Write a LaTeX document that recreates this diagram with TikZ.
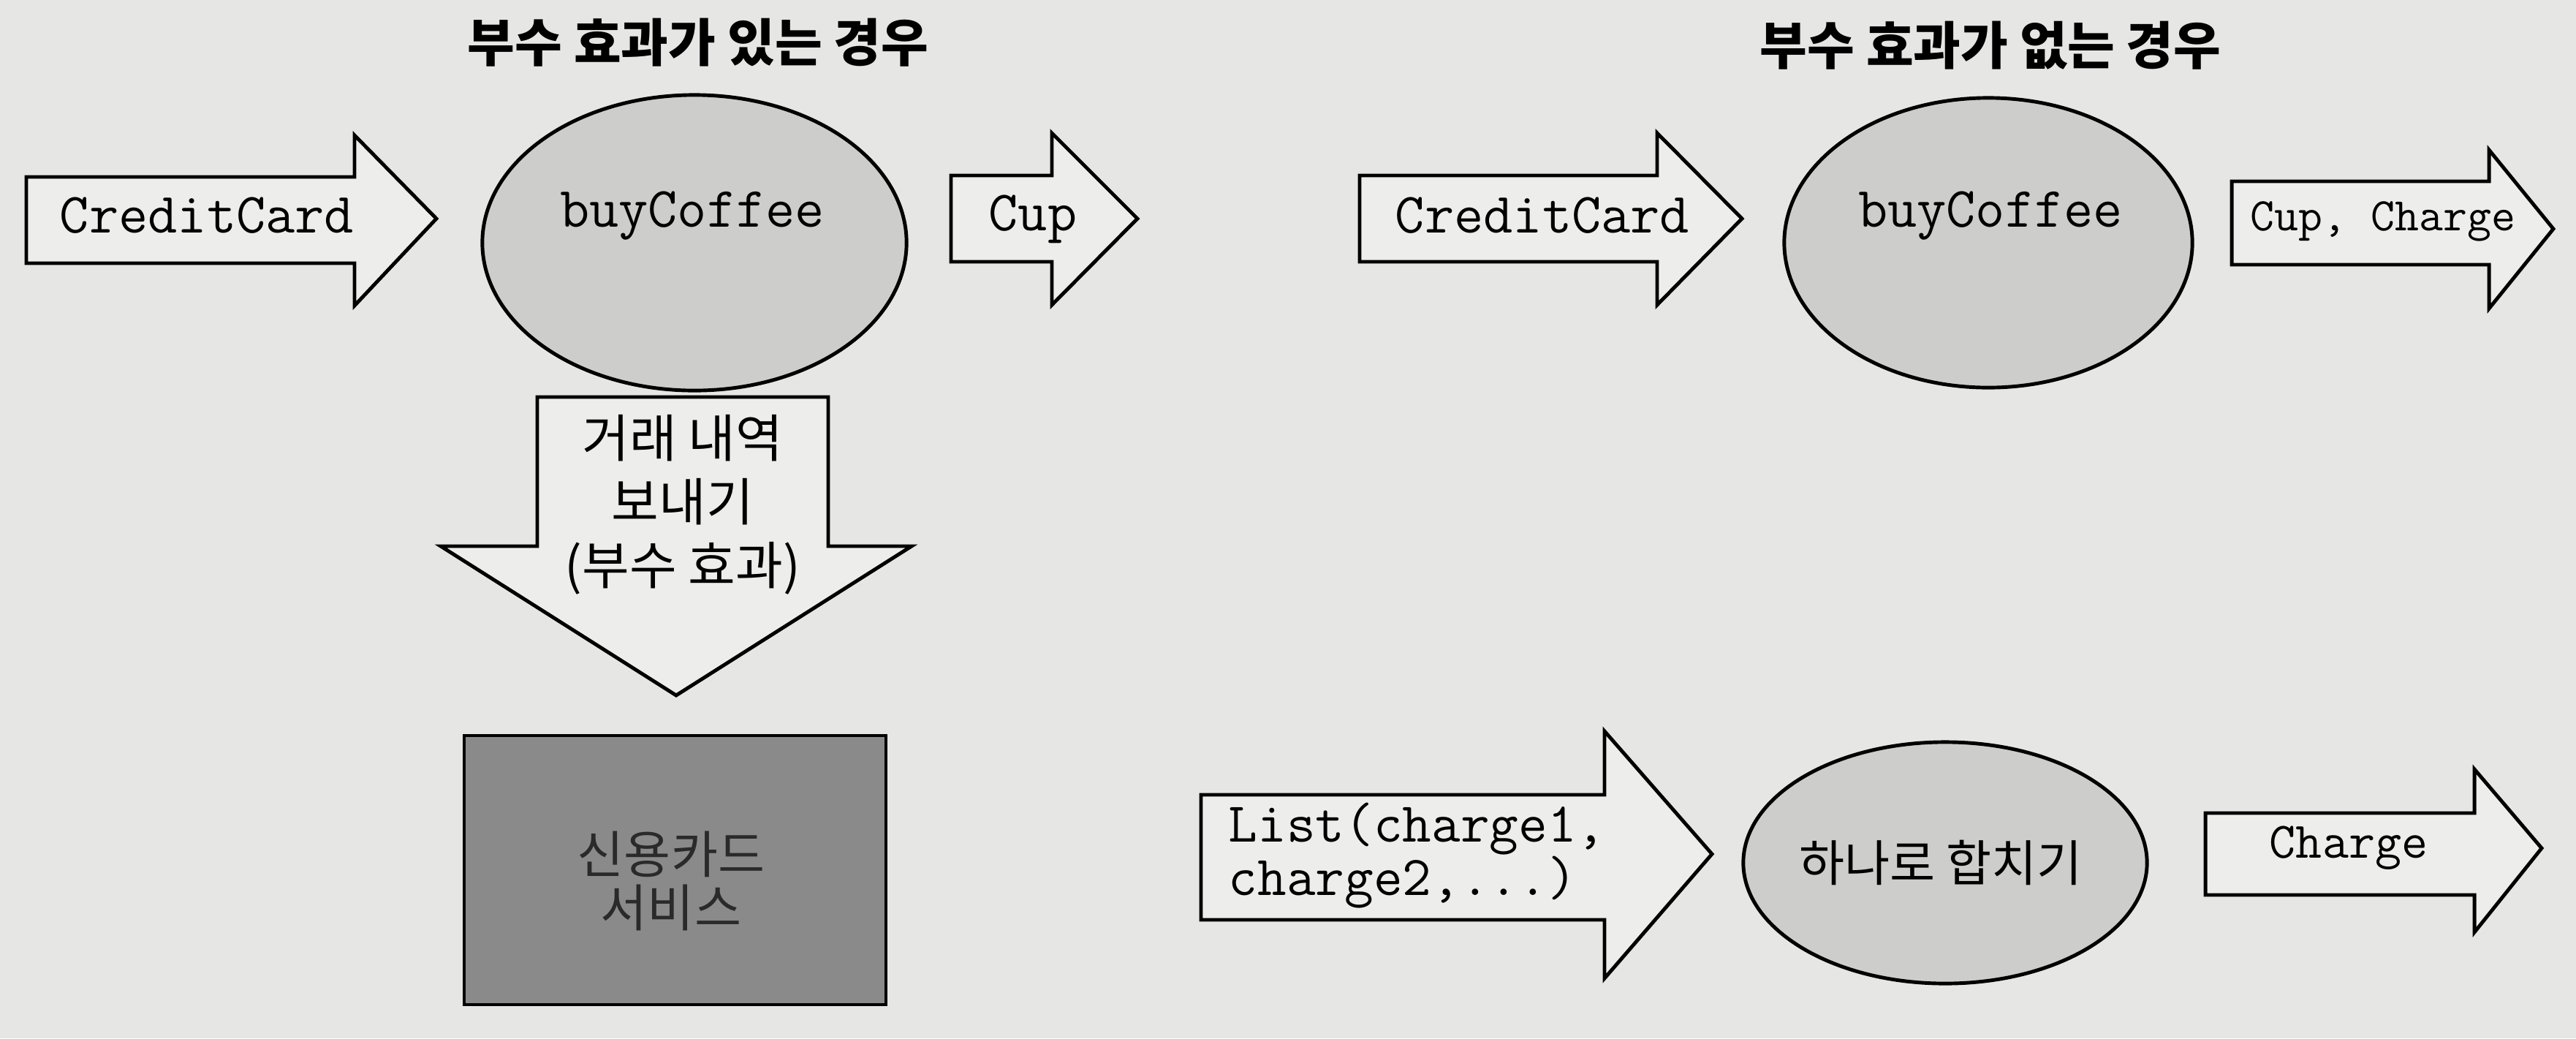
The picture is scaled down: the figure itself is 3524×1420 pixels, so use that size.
\documentclass[tikz,border=0pt]{standalone}
\usepackage{fontspec}
\usetikzlibrary{shapes.geometric}
\newfontfamily\kr{Noto Sans CJK KR}
\definecolor{bgcol}{HTML}{E6E6E4}
\definecolor{arrowfill}{HTML}{EDEDEB}
\definecolor{ellfill}{HTML}{CDCDCB}
\definecolor{boxfill}{HTML}{8A8A8A}
\definecolor{boxtext}{HTML}{2A2A2A}
\begin{document}
\begin{tikzpicture}[x=0.01cm,y=-0.01cm,
  blockarrow/.style={draw=black, line width=1.4pt, fill=arrowfill, line join=miter},
  bubble/.style={ellipse, draw=black, line width=1.4pt, fill=ellfill, inner sep=0pt},
  mono/.style={font=\ttfamily\fontsize{22.2}{26}\selectfont, inner sep=0pt},
  title/.style={font=\kr\bfseries\fontsize{20}{24}\selectfont, inner sep=0pt},
  krtext/.style={font=\kr\fontsize{20}{24.7}\selectfont, inner sep=0pt, align=center}]
\useasboundingbox (0,0) rectangle (3524,1420);
\fill[bgcol] (0,0) rectangle (3524,1420);

% titles
\node[title] (title1) at (955,58) {부수 효과가 있는 경우};
\node[title] (title2) at (2723,62) {부수 효과가 없는 경우};

% left: with side effect
\draw[blockarrow] (36,242) -- (485,242) -- (485,185) -- (597,299) -- (485,418) -- (485,360) -- (36,360) -- cycle;
\node[mono] (cc1) at (283,295) {CreditCard};

\node[bubble, minimum width=5.8cm, minimum height=4.04cm] (e1) at (950,332) {};
\node[mono] (bc1) at (947,295) {buyCoffee};

\draw[blockarrow] (1301,240) -- (1439,240) -- (1439,182) -- (1556,299) -- (1439,417) -- (1439,358) -- (1301,358) -- cycle;
\node[mono] (cup1) at (1413,300) {Cup};

\draw[blockarrow] (735,543) -- (1133,543) -- (1133,747) -- (1247,747) -- (925,951) -- (603,747) -- (735,747) -- cycle;
\node[krtext] (send) at (934,690) {거래 내역\\보내기\\(부수 효과)};

\node[draw=black, line width=1pt, fill=boxfill, minimum width=5.77cm, minimum height=3.68cm, inner sep=0pt] (svc) at (923.5,1190) {};
\node[krtext, text=boxtext, font=\kr\fontsize{19.8}{20.8}\selectfont] (svct) at (918,1205) {신용카드\\서비스};

% right: without side effect
\draw[blockarrow] (1860,240) -- (2267,240) -- (2267,182) -- (2383,299) -- (2267,417) -- (2267,358) -- (1860,358) -- cycle;
\node[mono] (cc2) at (2110,295) {CreditCard};

\node[bubble, minimum width=5.58cm, minimum height=3.96cm] (e2) at (2720,332) {};
\node[mono] (bc2) at (2723,295) {buyCoffee};

\draw[blockarrow] (3053,248) -- (3405,248) -- (3405,205) -- (3493,313) -- (3405,422) -- (3405,362) -- (3053,362) -- cycle;
\node[mono, font=\ttfamily\fontsize{18.2}{22}\selectfont] (cupc) at (3260,303) {Cup, Charge};

% bottom right: combine
\draw[blockarrow] (1643,1087) -- (2195,1087) -- (2195,1000) -- (2342,1168) -- (2195,1338) -- (2195,1258) -- (1643,1258) -- cycle;
\node[mono, font=\ttfamily\fontsize{21.9}{21}\selectfont, align=left, anchor=west] (list) at (1680,1170) {List(charge1,\\charge2,...)};

\node[bubble, minimum width=5.52cm, minimum height=3.3cm] (e3) at (2661,1180) {};
\node[krtext, font=\kr\fontsize{19.2}{22}\selectfont] (merge) at (2655,1180) {하나로 합치기};

\draw[blockarrow] (3017,1112) -- (3385,1112) -- (3385,1052) -- (3477,1160) -- (3385,1275) -- (3385,1224) -- (3017,1224) -- cycle;
\node[mono, font=\ttfamily\fontsize{19.9}{23}\selectfont] (charge) at (3213,1160) {Charge};
\end{tikzpicture}
\end{document}
